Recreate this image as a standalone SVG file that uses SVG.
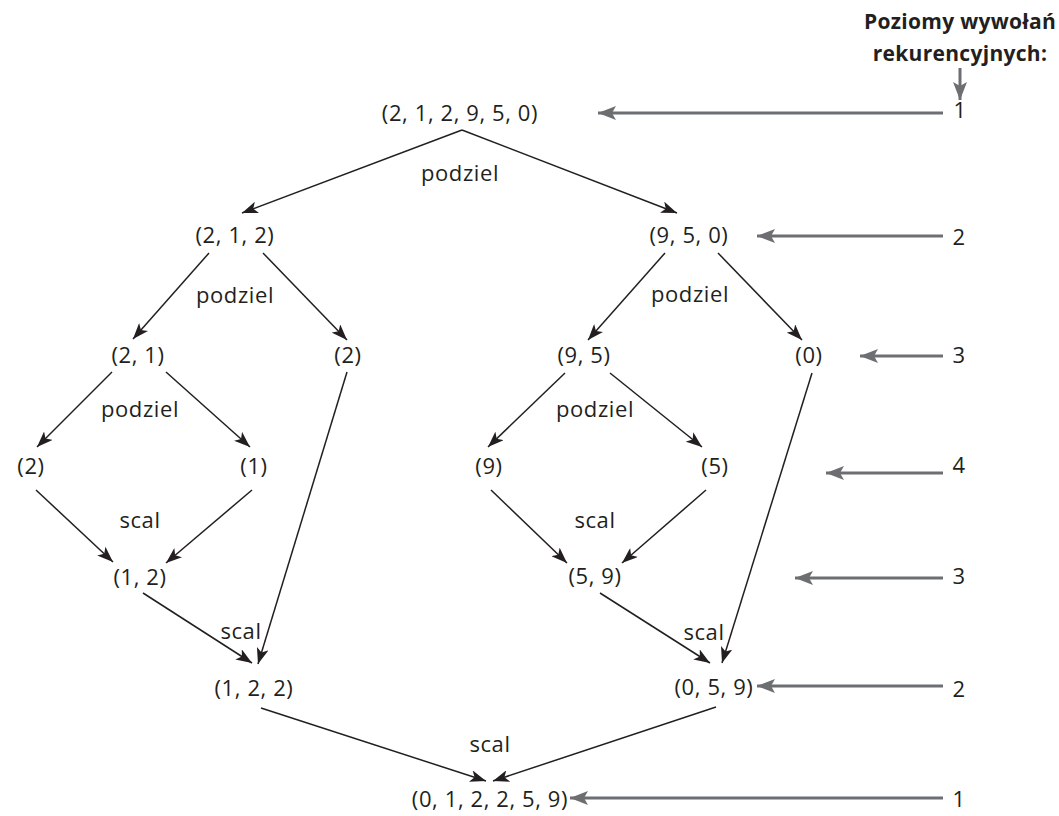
<svg xmlns="http://www.w3.org/2000/svg" width="1059" height="816" viewBox="0 0 1059 816">
  <style>
    text { font-family: "Open Sans", "Noto Sans", "Liberation Sans", sans-serif; font-size: 22px; fill: #231f20; text-anchor: middle; letter-spacing: 0.6px; }
    .hdr { font-weight: bold; font-size: 21px; letter-spacing: 0.3px; }
    .edge { stroke: #231f20; stroke-width: 1.5; fill: none; marker-end: url(#tipBlack); }
    .lvl { stroke: #6d6e71; stroke-width: 3; fill: none; marker-end: url(#tipGray); }
  </style>
  <defs>
    <marker id="tipBlack" viewBox="0 0 16 12" refX="16" refY="6" markerWidth="16" markerHeight="12" markerUnits="userSpaceOnUse" orient="auto">
      <path d="M0,0 L16,6 L0,12 L4,6 Z" fill="#231f20"/>
    </marker>
    <marker id="tipGray" viewBox="0 0 18 14" refX="18" refY="7" markerWidth="18" markerHeight="14" markerUnits="userSpaceOnUse" orient="auto">
      <path d="M0,0 L18,7 L0,14 L4,7 Z" fill="#6d6e71"/>
    </marker>
  </defs>

  <!-- recursion tree edges -->
  <g id="connectors">
    <line class="edge" x1="462" y1="130" x2="242" y2="213"/>
    <line class="edge" x1="462" y1="130" x2="677" y2="213"/>
    <line class="edge" x1="209" y1="253" x2="133" y2="339"/>
    <line class="edge" x1="263" y1="253" x2="347" y2="340"/>
    <line class="edge" x1="665" y1="253" x2="588" y2="340"/>
    <line class="edge" x1="718" y1="253" x2="802" y2="340"/>
    <line class="edge" x1="112" y1="372" x2="37" y2="447"/>
    <line class="edge" x1="166" y1="372" x2="250" y2="447"/>
    <line class="edge" x1="565" y1="373" x2="488" y2="447"/>
    <line class="edge" x1="610" y1="373" x2="702" y2="447"/>
    <line class="edge" x1="36" y1="490" x2="113" y2="562"/>
    <line class="edge" x1="252" y1="490" x2="166" y2="563"/>
    <line class="edge" x1="491" y1="490" x2="567" y2="563"/>
    <line class="edge" x1="706" y1="490" x2="622" y2="563"/>
    <line class="edge" x1="143" y1="593" x2="252" y2="663"/>
    <line class="edge" x1="347" y1="372" x2="258" y2="664"/>
    <line class="edge" x1="600" y1="593" x2="710" y2="663"/>
    <line class="edge" x1="812" y1="373" x2="722" y2="663"/>
    <line class="edge" x1="261" y1="708" x2="486" y2="781"/>
    <line class="edge" x1="716" y1="707" x2="493" y2="781"/>
  </g>

  <!-- operation labels -->
  <g id="labels">
    <text x="460" y="181">podziel</text>
    <text x="235" y="303">podziel</text>
    <text x="690" y="302">podziel</text>
    <text x="140" y="417">podziel</text>
    <text x="595" y="417">podziel</text>
    <text x="140" y="528">scal</text>
    <text x="595" y="528">scal</text>
    <text x="241" y="639">scal</text>
    <text x="704" y="640">scal</text>
    <text x="490" y="752">scal</text>
  </g>

  <!-- tree nodes -->
  <g id="n-root"><text x="460" y="121">(2, 1, 2, 9, 5, 0)</text></g>
  <g id="n-212"><text x="235" y="243">(2, 1, 2)</text></g>
  <g id="n-950"><text x="689" y="243">(9, 5, 0)</text></g>
  <g id="n-21"><text x="138" y="363">(2, 1)</text></g>
  <g id="n-2a"><text x="348" y="363">(2)</text></g>
  <g id="n-95"><text x="584" y="363">(9, 5)</text></g>
  <g id="n-0"><text x="809" y="363">(0)</text></g>
  <g id="n-2b"><text x="31" y="474">(2)</text></g>
  <g id="n-1"><text x="254" y="474">(1)</text></g>
  <g id="n-9"><text x="489" y="474">(9)</text></g>
  <g id="n-5"><text x="715" y="474">(5)</text></g>
  <g id="n-12"><text x="140" y="585">(1, 2)</text></g>
  <g id="n-59"><text x="595" y="584">(5, 9)</text></g>
  <g id="n-122"><text x="254" y="696">(1, 2, 2)</text></g>
  <g id="n-059"><text x="714" y="695">(0, 5, 9)</text></g>
  <g id="n-sorted"><text x="490" y="807">(0, 1, 2, 2, 5, 9)</text></g>

  <!-- recursion level column -->
  <g id="levels">
    <text class="hdr" x="960" y="29">Poziomy wywołań</text>
    <text class="hdr" x="960" y="61">rekurencyjnych:</text>
    <line class="lvl" x1="960" y1="68" x2="960" y2="100"/>
    <line class="lvl" x1="943" y1="113" x2="598" y2="113"/>
    <line class="lvl" x1="943" y1="236" x2="757" y2="236"/>
    <line class="lvl" x1="943" y1="356" x2="860" y2="356"/>
    <line class="lvl" x1="943" y1="473" x2="826" y2="473"/>
    <line class="lvl" x1="943" y1="578" x2="795" y2="578"/>
    <line class="lvl" x1="943" y1="686" x2="757" y2="686"/>
    <line class="lvl" x1="943" y1="798" x2="570" y2="798"/>
    <text x="960" y="118">1</text>
    <text x="959" y="245">2</text>
    <text x="959" y="363">3</text>
    <text x="959" y="473">4</text>
    <text x="959" y="584">3</text>
    <text x="959" y="697">2</text>
    <text x="959" y="807">1</text>
  </g>
</svg>
